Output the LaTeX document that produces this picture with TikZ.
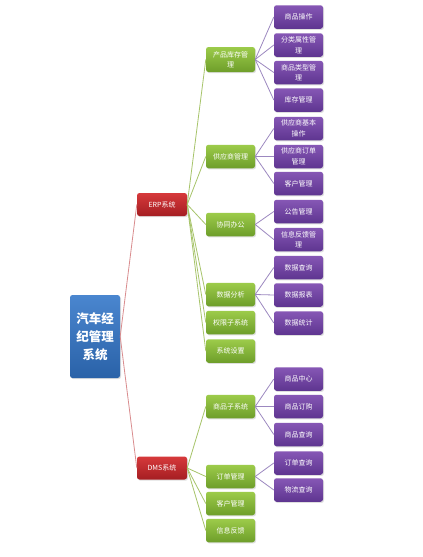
\documentclass[tikz,border=0pt]{standalone}
\usepackage{fontspec}
\setmainfont{Noto Sans CJK SC}
\usetikzlibrary{shadows}
\definecolor{rootT}{HTML}{4A86CF}
\definecolor{rootB}{HTML}{2A62A8}
\definecolor{redT}{HTML}{D6393B}
\definecolor{redB}{HTML}{A51E22}
\definecolor{grT}{HTML}{9CCB4A}
\definecolor{grB}{HTML}{6E9E2A}
\definecolor{puT}{HTML}{8657B5}
\definecolor{puB}{HTML}{5E3590}
\definecolor{redL}{HTML}{D98C8E}
\definecolor{grL}{HTML}{A7C46A}
\definecolor{puL}{HTML}{9C88C0}
\begin{document}
\begin{tikzpicture}[x=1pt,y=-1pt,
  box/.style={rounded corners=2.5pt, text=white, align=center, inner sep=0.5pt,
    font=\fontsize{7}{10.5}\selectfont,
    drop shadow={opacity=0.25,shadow xshift=1pt,shadow yshift=-1.2pt}},
  rootbox/.style={box, top color=rootT, bottom color=rootB, minimum width=50pt,
    minimum height=83pt, font=\fontsize{12.5}{18}\selectfont\bfseries},
  sysbox/.style={box, top color=redT, bottom color=redB, minimum width=50pt, minimum height=23pt},
  grbox/.style={box, top color=grT, bottom color=grB, minimum width=49pt, minimum height=23.5pt},
  pubox/.style={box, top color=puT, bottom color=puB, minimum width=49pt, minimum height=23.5pt},
  redline/.style={draw=redL, line width=0.8pt},
  grline/.style={draw=grL, line width=0.8pt},
  puline/.style={draw=puL, line width=0.8pt}
]
\useasboundingbox (0,0) rectangle (423,557);
\fill[white] (0,0) rectangle (423,557);

\node[rootbox] (root) at (95,336.5) {汽车经\\纪管理\\系统};
\node[sysbox] (erp) at (162,204.5) {ERP系统};
\node[sysbox] (dms) at (162,468) {DMS系统};

% ERP second level
\node[grbox, minimum height=25pt] (g1) at (230.5,59.5) {产品库存管\\理};
\node[grbox] (g2) at (230.5,156.5) {供应商管理};
\node[grbox] (g3) at (230.5,224.5) {协同办公};
\node[grbox] (g4) at (230.5,294.5) {数据分析};
\node[grbox] (g5) at (230.5,322.5) {权限子系统};
\node[grbox] (g6) at (230.5,351) {系统设置};
% DMS second level
\node[grbox] (h1) at (230.5,406.5) {商品子系统};
\node[grbox] (h2) at (230.5,476.5) {订单管理};
\node[grbox] (h3) at (230.5,503.5) {客户管理};
\node[grbox] (h4) at (230.5,530.5) {信息反馈};

% purple level
\node[pubox] (p1) at (298.5,17) {商品操作};
\node[pubox] (p2) at (298.5,45) {分类属性管\\理};
\node[pubox] (p3) at (298.5,72.5) {商品类型管\\理};
\node[pubox] (p4) at (298.5,100) {库存管理};
\node[pubox] (p5) at (298.5,128.5) {供应商基本\\操作};
\node[pubox] (p6) at (298.5,156.5) {供应商订单\\管理};
\node[pubox] (p7) at (298.5,183.5) {客户管理};
\node[pubox] (p8) at (298.5,211.5) {公告管理};
\node[pubox] (p9) at (298.5,239.5) {信息反馈管\\理};
\node[pubox] (p10) at (298.5,267.5) {数据查询};
\node[pubox] (p11) at (298.5,295) {数据报表};
\node[pubox] (p12) at (298.5,323) {数据统计};
\node[pubox] (q1) at (298.5,379) {商品中心};
\node[pubox] (q2) at (298.5,406.5) {商品订购};
\node[pubox] (q3) at (298.5,434.5) {商品查询};
\node[pubox] (q4) at (298.5,463) {订单查询};
\node[pubox] (q5) at (298.5,490) {物流查询};

\draw[redline] (root.east) -- (erp.west);
\draw[redline] (root.east) -- (dms.west);
\foreach \g in {g1,g2,g3,g4,g5,g6} \draw[grline] (erp.east) -- (\g.west);
\foreach \g in {h1,h2,h3,h4} \draw[grline] (dms.east) -- (\g.west);
\foreach \p in {p1,p2,p3,p4} \draw[puline] (g1.east) -- (\p.west);
\foreach \p in {p5,p6,p7} \draw[puline] (g2.east) -- (\p.west);
\foreach \p in {p8,p9} \draw[puline] (g3.east) -- (\p.west);
\foreach \p in {p10,p11,p12} \draw[puline] (g4.east) -- (\p.west);
\foreach \p in {q1,q2,q3} \draw[puline] (h1.east) -- (\p.west);
\foreach \p in {q4,q5} \draw[puline] (h2.east) -- (\p.west);
\end{tikzpicture}
\end{document}
